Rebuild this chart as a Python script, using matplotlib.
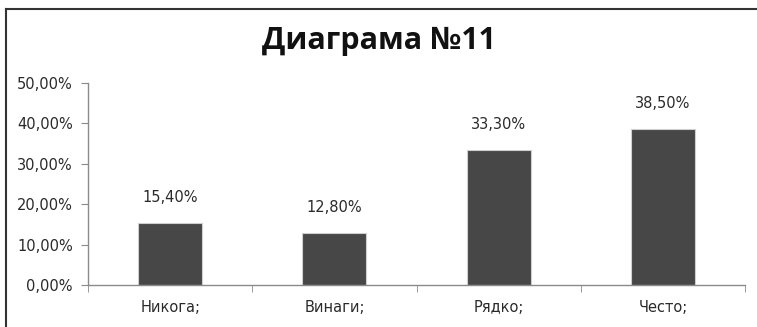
import matplotlib.pyplot as plt
import numpy as np
from matplotlib.ticker import FuncFormatter

categories = ["Никога;", "Винаги;", "Рядко;", "Често;"]
values = [15.40, 12.80, 33.30, 38.50]
yticks = [0, 10, 20, 30, 40, 50]


def pct(v, pos=None):
    return f"{v:.2f}%".replace(".", ",")


fig = plt.figure(figsize=(7.57, 3.27), dpi=100)
ax = fig.add_axes([88 / 757, 1 - 285 / 327, (745 - 88) / 757, (285 - 83) / 327])

x = np.arange(len(categories))
bars = ax.bar(x, values, width=0.39, color="#474747", edgecolor="#cfcfcf", linewidth=0.8)

for xi, v in zip(x, values):
    ax.annotate(pct(v), (xi, v), xytext=(0, 13), textcoords="offset points",
                ha="center", va="bottom", fontsize=10.5, color="#2a2a2a")

ax.set_xlim(-0.5, len(categories) - 0.5)
ax.set_ylim(0, 50)
ax.set_yticks(yticks)
ax.yaxis.set_major_formatter(FuncFormatter(pct))
ax.set_xticks(x)
ax.set_xticklabels(categories)
ax.set_xticks(np.arange(-0.5, len(categories)), minor=True)

for s in ["top", "right"]:
    ax.spines[s].set_visible(False)
for s in ["left", "bottom"]:
    ax.spines[s].set_color("#8a8a8a")
    ax.spines[s].set_linewidth(1.0)

ax.tick_params(axis="y", length=5, color="#8a8a8a", labelsize=10.5, labelcolor="#2a2a2a", pad=6)
ax.tick_params(axis="x", which="major", length=0, labelsize=10.5, labelcolor="#2a2a2a", pad=11)
ax.tick_params(axis="x", which="minor", length=5, color="#8a8a8a")

fig.text(0.5, 1 - 41 / 327, "Диаграма №11", ha="center", va="center",
         fontsize=22, fontweight="bold", family="Open Sans", color="#111111")

# outer frame, only top and left edges show in the picture
fig.add_artist(plt.Line2D([6 / 757, 6 / 757], [0, 1 - 9 / 327], transform=fig.transFigure,
                          color="#333333", linewidth=1.5))
fig.add_artist(plt.Line2D([6 / 757, 1], [1 - 9 / 327, 1 - 9 / 327], transform=fig.transFigure,
                          color="#333333", linewidth=1.5))

fig.savefig("out.png", dpi=100)
